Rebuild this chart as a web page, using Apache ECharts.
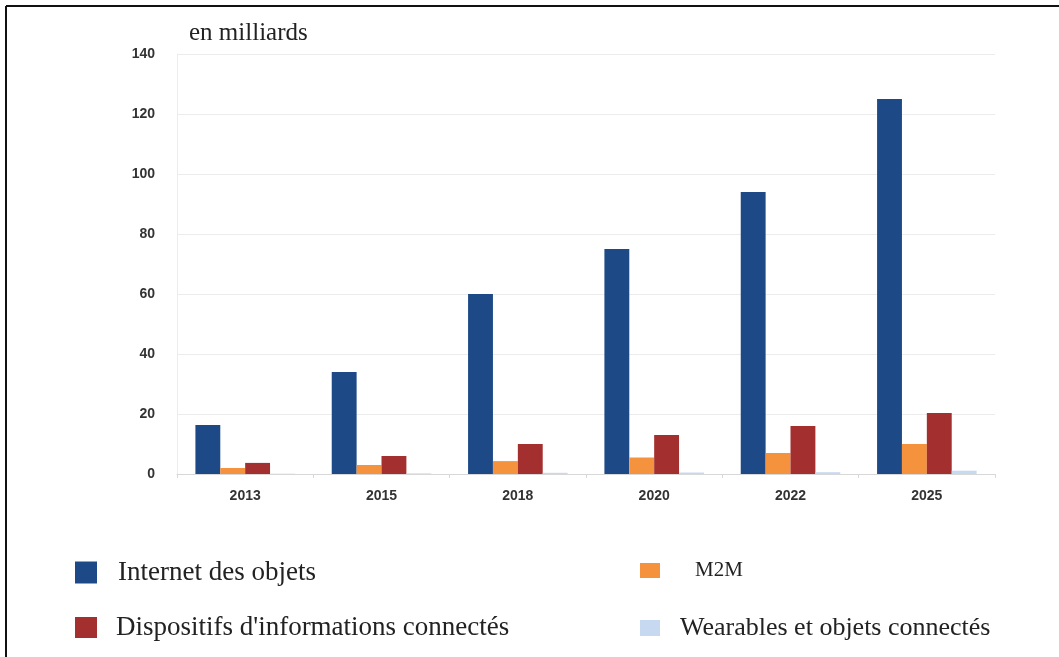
<!DOCTYPE html>
<html>
<head>
<meta charset="utf-8">
<script src="https://cdn.jsdelivr.net/npm/echarts@6/dist/echarts.min.js"></script>
<style>html,body{margin:0;padding:0;background:#fff}#c{width:1059px;height:657px}</style>
</head>
<body>
<div id="c"></div>
<script>
const categories = ['2013', '2015', '2018', '2020', '2022', '2025'];
const seriesNames = ['Internet des objets', 'M2M', "Dispositifs d'informations connectés", 'Wearables et objets connectés'];
const iot = [16.3, 34, 60, 75, 94, 125];
const m2m = [2, 3, 4.3, 5.5, 7, 10];
const devices = [3.7, 6, 10, 13, 16, 20.3];
const wearables = [0.1, 0.2, 0.4, 0.5, 0.6, 1.1];
const yTicks = [0, 20, 40, 60, 80, 100, 120, 140];
const colors = ['#1d4a87', '#f5923e', '#a32f2e', '#c6d9f0'];

const chart = echarts.init(document.getElementById('c'), null, {renderer: 'canvas'});
const values = [iot, m2m, devices, wearables];
const legendPos = [
  {left: 75, top: 559, fontSize: 27, w: 22, h: 22, pad: 21},
  {left: 640, top: 560, fontSize: 21, w: 20, h: 15, pad: 35},
  {left: 75, top: 614, fontSize: 27, w: 22, h: 21, pad: 19},
  {left: 640, top: 615, fontSize: 26, w: 20, h: 16, pad: 20}
];
chart.setOption({
  animation: false,
  title: {
    text: 'en milliards', left: 184, top: 16,
    textStyle: {fontFamily: 'Liberation Serif', fontSize: 25, fontWeight: 'normal', color: '#222'}
  },
  legend: legendPos.map((p, i) => ({
    data: [seriesNames[i]], left: p.left, top: p.top, padding: 0,
    itemWidth: p.w, itemHeight: p.h, itemGap: 0,
    icon: 'rect',
    textStyle: {fontFamily: 'Liberation Serif', fontSize: p.fontSize, color: '#222', padding: [5, 0, 0, p.pad - 5]}
  })),
  grid: {left: 177, right: 64, top: 54, bottom: 183},
  xAxis: {
    type: 'category', data: categories,
    axisLine: {show: true, lineStyle: {color: '#d8d8d8'}},
    axisTick: {show: true, length: 4, lineStyle: {color: '#d8d8d8'}},
    axisLabel: {fontFamily: 'Liberation Sans', fontSize: 14, fontWeight: 'bold', color: '#333', margin: 15}
  },
  yAxis: {
    type: 'value', min: 0, max: 140, interval: 20,
    axisLine: {show: true, lineStyle: {color: '#ececec'}},
    axisTick: {show: false},
    splitLine: {lineStyle: {color: '#ececec'}},
    axisLabel: {fontFamily: 'Liberation Sans', fontSize: 14, fontWeight: 'bold', color: '#333', margin: 22,
      formatter: v => yTicks.includes(v) ? String(v) : ''}
  },
  series: values.map((d, i) => ({
    name: seriesNames[i], type: 'bar', data: d,
    barGap: '0%', barCategoryGap: '27%',
    itemStyle: {color: colors[i]}
  })),
  graphic: [
    {type: 'line', shape: {x1: 6, y1: 6, x2: 1059, y2: 6}, style: {stroke: '#111', lineWidth: 2}},
    {type: 'line', shape: {x1: 6, y1: 6, x2: 6, y2: 657}, style: {stroke: '#111', lineWidth: 2}}
  ]
});
</script>
</body>
</html>
